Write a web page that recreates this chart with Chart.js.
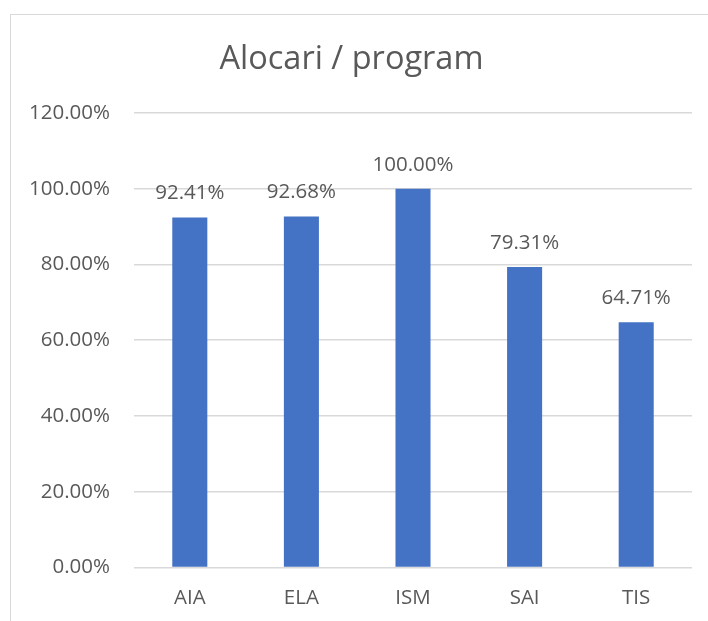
<!DOCTYPE html>
<html>
<head>
<meta charset="utf-8">
<script src="https://cdn.jsdelivr.net/npm/chart.js@4/dist/chart.umd.min.js"></script>
<style>
  html, body { margin: 0; padding: 0; background: #fff; overflow: hidden; }
  #frame { position: absolute; left: 10px; top: 14px; width: 740px; height: 660px; border: 1px solid #d9d9d9; }
  #c { position: absolute; left: 0; top: 0; }
</style>
</head>
<body>
<div id="frame"><canvas id="c" width="697" height="627"></canvas></div>
<script>
const titleText = "Alocari / program";
const categories = ["AIA", "ELA", "ISM", "SAI", "TIS"];
const values = [92.41, 92.68, 100.00, 79.31, 64.71];
const yTicks = [0, 20, 40, 60, 80, 100, 120];

const FONT = "'Open Sans', sans-serif";
const TEXT = "#595959";
const FS = 20.5;

const dataLabels = {
  id: 'dataLabels',
  afterDatasetsDraw(chart) {
    const ctx = chart.ctx;
    const meta = chart.getDatasetMeta(0);
    ctx.save();
    ctx.font = FS + "px " + FONT;
    ctx.fillStyle = TEXT;
    ctx.textAlign = 'center';
    ctx.textBaseline = 'middle';
    meta.data.forEach((bar, i) => {
      ctx.fillText(values[i].toFixed(2) + '%', bar.x, bar.y - 24);
    });
    ctx.restore();
  }
};

new Chart(document.getElementById('c'), {
  type: 'bar',
  data: {
    labels: categories,
    datasets: [{
      data: values,
      backgroundColor: '#4472C4',
      barPercentage: 0.314,
      categoryPercentage: 1.0
    }]
  },
  options: {
    responsive: false,
    animation: false,
    layout: { padding: { left: 0, right: 16, top: 0, bottom: 14 } },
    plugins: {
      legend: { display: false },
      tooltip: { enabled: false },
      title: {
        display: true,
        text: titleText,
        color: TEXT,
        font: { family: FONT, size: 32.5, weight: 'normal', lineHeight: 1.2 },
        padding: { top: 25.5, bottom: 33.5 }
      }
    },
    scales: {
      x: {
        grid: { display: false, drawTicks: false },
        border: { display: false },
        ticks: { color: TEXT, font: { family: FONT, size: FS }, padding: 18 }
      },
      y: {
        min: 0, max: 120,
        afterBuildTicks(scale) { scale.ticks = yTicks.map(v => ({ value: v })); },
        afterFit(scale) { scale.width = 123; },
        grid: { color: '#d9d9d9', lineWidth: 1.5, drawTicks: false },
        border: { display: false },
        ticks: {
          color: TEXT, font: { family: FONT, size: FS }, padding: 24,
          callback: v => Number(v).toFixed(2) + '%'
        }
      }
    }
  },
  plugins: [dataLabels]
});
</script>
</body>
</html>
